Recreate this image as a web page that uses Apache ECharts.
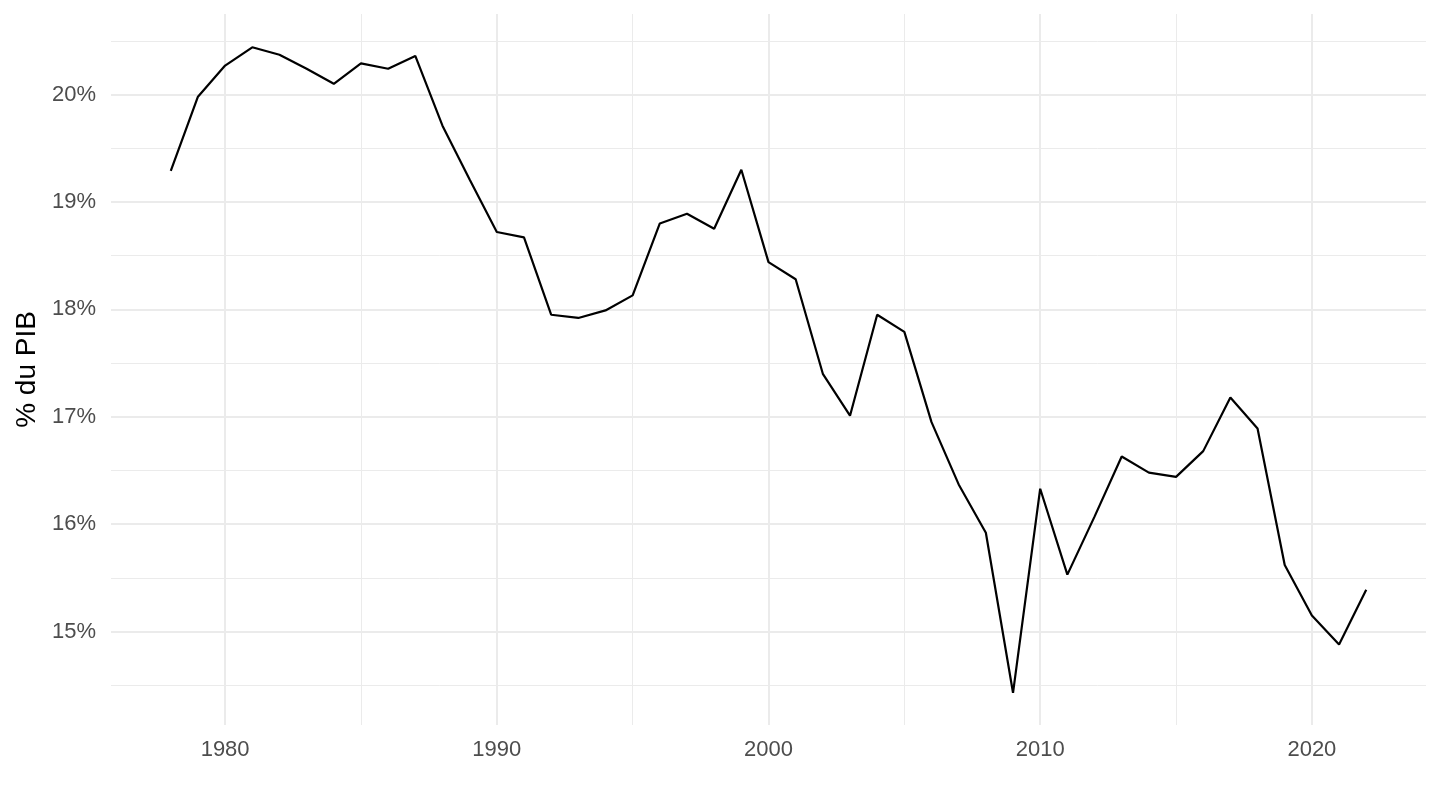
<!DOCTYPE html>
<html>
<head>
<meta charset="utf-8">
<script src="https://cdn.jsdelivr.net/npm/echarts@6/dist/echarts.min.js"></script>
<style>
html,body{margin:0;padding:0;background:#fff;}
#chart{width:1440px;height:810px;}
</style>
</head>
<body>
<div id="chart"></div>
<script>
const years = [1978,1979,1980,1981,1982,1983,1984,1985,1986,1987,1988,1989,1990,1991,1992,1993,1994,1995,1996,1997,1998,1999,2000,2001,2002,2003,2004,2005,2006,2007,2008,2009,2010,2011,2012,2013,2014,2015,2016,2017,2018,2019,2020,2021,2022];
const values = [19.29,19.98,20.27,20.44,20.37,20.24,20.10,20.29,20.24,20.36,19.71,19.21,18.72,18.67,17.95,17.92,17.99,18.13,18.80,18.89,18.75,19.30,18.44,18.28,17.40,17.01,17.95,17.79,16.95,16.37,15.92,14.43,16.33,15.53,16.07,16.63,16.48,16.44,16.68,17.18,16.89,15.62,15.15,14.88,15.39];
const xMajorTicks = [1980,1990,2000,2010,2020];
const xMinorTicks = [1985,1995,2005,2015];
const yMajorTicks = [15,16,17,18,19,20];
const yMinorTicks = [14.5,15.5,16.5,17.5,18.5,19.5,20.5];
const yTitle = '% du PIB';

const xMin = 1975.8, xMax = 2024.2, yMin = 14.13, yMax = 20.75;
const font = 'Liberation Sans, Arial, Helvetica, sans-serif';

const chart = echarts.init(document.getElementById('chart'));
chart.setOption({
  animation: false,
  backgroundColor: '#ffffff',
  grid: {left: 111, right: 14, top: 14, bottom: 85, containLabel: false},
  xAxis: [
    {
      type: 'value', min: xMin, max: xMax,
      axisLine: {show: false},
      axisTick: {show: false, customValues: xMajorTicks},
      axisLabel: {customValues: xMajorTicks, color: '#4d4d4d', fontSize: 22, fontFamily: font, margin: 14,
        formatter: v => String(v), showMinLabel: true, showMaxLabel: true},
      splitLine: {show: true, lineStyle: {color: '#ebebeb', width: 2}},
      z: 0
    },
    {
      type: 'value', min: xMin, max: xMax, position: 'bottom',
      axisLine: {show: false},
      axisTick: {show: false, customValues: xMinorTicks},
      axisLabel: {show: false, customValues: xMinorTicks},
      splitLine: {show: true, lineStyle: {color: '#ebebeb', width: 1}},
      z: 0
    }
  ],
  yAxis: [
    {
      type: 'value', min: yMin, max: yMax,
      name: yTitle, nameLocation: 'middle', nameGap: 70, nameRotate: 90,
      nameTextStyle: {color: '#000000', fontSize: 28, fontFamily: font},
      axisLine: {show: false},
      axisTick: {show: false, customValues: yMajorTicks},
      axisLabel: {customValues: yMajorTicks, color: '#4d4d4d', fontSize: 22, fontFamily: font, margin: 15,
        formatter: v => Math.round(v) + '%'},
      splitLine: {show: true, lineStyle: {color: '#ebebeb', width: 2}},
      z: 0
    },
    {
      type: 'value', min: yMin, max: yMax, position: 'left',
      axisLine: {show: false},
      axisTick: {show: false, customValues: yMinorTicks},
      axisLabel: {show: false, customValues: yMinorTicks},
      splitLine: {show: true, lineStyle: {color: '#ebebeb', width: 1}},
      z: 0
    }
  ],
  series: [{
    type: 'line',
    data: years.map((y, i) => [y, values[i]]),
    xAxisIndex: 0, yAxisIndex: 0,
    showSymbol: false, symbol: 'none',
    lineStyle: {color: '#000000', width: 2.2},
    z: 5
  }]
});
</script>
</body>
</html>
